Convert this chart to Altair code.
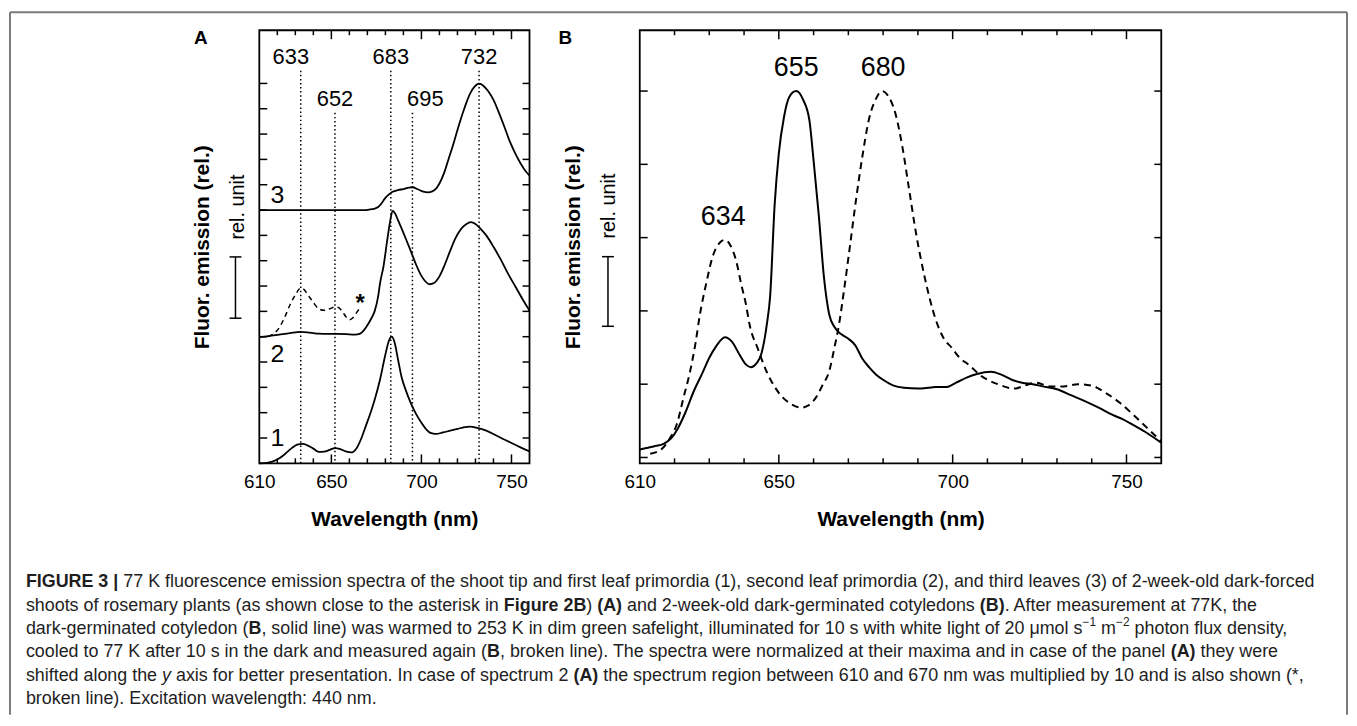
import altair as alt
import pandas as pd

FONT = "Liberation Sans"

# ---------------- Panel A : spectra (relative units, shifted by 0 / 5 / 10) ----------------
a1_wl = [610, 615, 620, 624, 628, 631, 634, 637, 640, 643, 646, 649, 652, 655, 658, 661, 664, 667, 669, 672,
         674, 677, 680, 682, 683.5, 685, 687, 689, 691, 694, 697, 700, 702, 705, 708, 712, 716, 720, 724, 727,
         731, 736, 741, 746, 750, 755, 760]
a1_val = [0.0, 0.03, 0.15, 0.35, 0.6, 0.74, 0.77, 0.7, 0.58, 0.45, 0.46, 0.53, 0.6, 0.56, 0.47, 0.43, 0.6, 1.05, 1.45, 2.05,
          2.5, 3.3, 4.3, 4.85, 5.0, 4.8, 4.1, 3.4, 2.95, 2.4, 1.95, 1.6, 1.4, 1.2, 1.16, 1.22, 1.29, 1.36, 1.43, 1.45,
          1.4, 1.29, 1.12, 0.94, 0.8, 0.63, 0.47]

a2_wl = [610, 615, 621, 627, 633, 638, 643, 648, 653, 658, 663, 666, 668, 670, 672, 674, 676, 677, 679, 681,
         682.5, 684, 685.5, 687, 690, 692, 694, 697, 700, 702, 704.5, 707, 710, 713, 716, 719, 722, 725, 727.5, 730,
         733, 736, 740, 744, 748, 752, 756, 760]
a2_val = [4.98, 5.02, 5.08, 5.14, 5.19, 5.16, 5.12, 5.11, 5.11, 5.1, 5.08, 5.12, 5.25, 5.45, 5.7, 6.0, 6.6, 7.1, 7.8, 8.8,
          9.5, 9.97, 9.85, 9.6, 9.1, 8.75, 8.4, 7.85, 7.4, 7.2, 7.07, 7.12, 7.38, 7.85, 8.4, 8.9, 9.25, 9.45, 9.52, 9.45,
          9.25, 9.0, 8.55, 8.05, 7.5, 7.0, 6.5, 6.03]

# spectrum 2, region 610-670 nm multiplied by 10 (broken line, *)
a2x_wl = [615, 618, 621, 624, 627, 630, 633, 635, 637, 640, 643, 646, 649, 652, 654, 656, 658, 660, 662, 664, 665.5]
a2x_val = [5.0, 5.12, 5.35, 5.75, 6.25, 6.65, 6.92, 6.85, 6.65, 6.35, 6.1, 6.04, 6.1, 6.17, 6.15, 6.0, 5.8, 5.67, 5.75,
           5.95, 6.1]

a3_wl = [610, 640, 668, 671, 674, 676, 678, 680, 682, 684, 687, 690, 693, 695, 698, 701, 703.5, 706, 708, 710,
         712.5, 715, 718, 721, 724, 727, 729.5, 732, 734.5, 737, 740, 743, 746, 749, 752, 755, 758, 760]
a3_val = [10.0, 10.0, 10.0, 10.02, 10.06, 10.12, 10.28, 10.48, 10.62, 10.72, 10.79, 10.83, 10.89, 10.9, 10.82, 10.73,
          10.7, 10.74, 10.84, 11.05, 11.45, 12.0, 12.67, 13.4, 14.05, 14.6, 14.87, 14.99, 14.9, 14.7, 14.35, 13.85,
          13.3, 12.72, 12.25, 11.85, 11.52, 11.36]

pkA_wl = [633, 652, 683, 695, 732]
pkA_top = [15.5, 13.84, 15.5, 13.84, 15.5]
pkA_text = ["633", "652", "683", "695", "732"]

curve_names = ["1", "2", "3"]
curve_label_wl = [620, 620, 620]
curve_label_y = [1.0, 4.3, 10.6]
asterisk_wl = [666]
asterisk_y = [6.27]
scalebarA = [5.73, 8.15]

# ---------------- Panel B ----------------
b1_wl = [610, 614, 617, 619, 621, 623, 625.5, 628, 630, 632, 634.5, 636.5, 638.5, 640.5, 642, 643.5, 645, 646.5, 647.5,
         648.8, 650, 651.5, 653, 655, 657, 658.8, 660, 661.5, 663, 664.5, 666, 668, 670, 672, 674, 676, 678, 680, 683,
         686, 690, 693, 695, 698, 701, 704, 707, 711, 714, 717, 720, 723, 726, 730, 734, 738, 742, 746, 749, 752, 756,
         760]
b1_val = [0.11, 0.15, 0.19, 0.26, 0.4, 0.6, 0.9, 1.15, 1.36, 1.52, 1.64, 1.58, 1.42, 1.27, 1.23, 1.28, 1.42, 1.8, 2.2,
          3.45, 4.15, 4.65, 4.92, 5.0, 4.88, 4.6, 4.05, 3.3, 2.45, 1.95, 1.78, 1.68, 1.62, 1.53, 1.35, 1.23, 1.13, 1.06,
          0.98, 0.95, 0.94, 0.95, 0.96, 0.96, 1.02, 1.09, 1.14, 1.17, 1.13, 1.06, 1.02, 1.0, 0.97, 0.93, 0.85, 0.77,
          0.68, 0.58, 0.52, 0.44, 0.33, 0.2]

b2_wl = [613, 616.4, 618.5, 620.7, 622.5, 624.5, 626, 627.3, 629, 631.1, 633, 634.5, 636, 637.8, 639.2, 640.5, 641.6,
         644, 646.4, 649, 651.1, 653.5, 656.4, 658.5, 660.7, 662.5, 664.5, 666, 667.3, 668.8, 670.5, 672.1, 674, 675.9,
         678, 679.7, 681.5, 683.5, 685.5, 687.3, 689.5, 692, 695, 697.5, 699.7, 702, 704.5, 708.3, 713, 717.8, 720.7,
         724, 728, 732, 736, 740, 744, 748, 752, 756, 760]
b2_val = [0.05, 0.12, 0.25, 0.46, 0.8, 1.18, 1.55, 1.95, 2.35, 2.76, 2.93, 2.97, 2.9, 2.67, 2.36, 2.1, 1.81, 1.48, 1.18,
          0.95, 0.82, 0.73, 0.68, 0.71, 0.82, 0.98, 1.18, 1.5, 1.81, 2.3, 2.9, 3.48, 4.1, 4.61, 4.9, 5.0, 4.93, 4.7,
          4.25, 3.71, 3.05, 2.45, 1.9, 1.62, 1.5, 1.36, 1.27, 1.11, 1.0, 0.94, 0.98, 1.02, 0.97, 0.97, 1.0, 0.98, 0.88,
          0.75, 0.58, 0.4, 0.22]

pkB_wl = [634, 655, 680]
pkB_val = [2.97, 5.0, 5.0]
pkB_text = ["634", "655", "680"]
scalebarB = [1.79, 2.74]

# ---------------- ticks ----------------
x_tick_labels = [610, 650, 700, 750]
x_ticks_minor = [620, 630, 640, 660, 670, 680, 690, 710, 720, 730, 740]
x_ticks_major = [650, 700, 750]
yA_ticks = [1, 2, 3, 4, 5, 6, 7, 8, 9, 10, 11, 12, 13, 14, 15]
yB_ticks = [0, 1, 2, 3, 4, 5]

WA, HA = 272, 436
WB, HB = 525, 436
ONE = pd.DataFrame({"k": [0]})


def xaxis():
    return alt.Axis(values=x_tick_labels, ticks=False, tickSize=0, domain=False, grid=False, labelPadding=9,
                    labelFlush=False, title="Wavelength (nm)", titleY=57, titleBaseline="middle")


def yaxis(tx):
    return alt.Axis(labels=False, ticks=False, domain=False, grid=False, title="Fluor. emission (rel.)",
                    titleX=tx, titleBaseline="middle")


def frame_and_ticks(W, H, xs, ys, ax, ay, yt):
    lay = [alt.Chart(ONE).mark_rect(fill="transparent", stroke="black", strokeWidth=1.8).encode(
        x=alt.value(0), x2=alt.value(W), y=alt.value(0), y2=alt.value(H))]
    for vals, ln in ((x_ticks_minor, 5), (x_ticks_major, 9)):
        for y0, y1 in ((H, H - ln), (0, ln)):
            lay.append(alt.Chart(pd.DataFrame({"t": vals})).mark_rule(color="black", strokeWidth=1.5).encode(
                x=alt.X("t:Q", scale=xs, axis=ax), y=alt.value(y0), y2=alt.value(y1)))
    for x0, x1 in ((0, 8), (W, W - 7)):
        lay.append(alt.Chart(pd.DataFrame({"t": yt})).mark_rule(color="black", strokeWidth=1.5).encode(
            y=alt.Y("t:Q", scale=ys, axis=ay), x=alt.value(x0), x2=alt.value(x1)))
    return lay


def rel_unit(ys, ay, bar, xbar, xtext, ytext):
    lay = [alt.Chart(pd.DataFrame({"t": ["rel. unit"]})).mark_text(
        font=FONT, fontSize=20, angle=270, align="center", baseline="middle", color="black").encode(
        x=alt.value(xtext), y=alt.value(ytext), text="t:N")]
    lay.append(alt.Chart(pd.DataFrame({"lo": [bar[0]], "hi": [bar[1]]})).mark_rule(
        color="black", strokeWidth=1.5).encode(
        x=alt.value(xbar), y=alt.Y("lo:Q", scale=ys, axis=ay), y2="hi:Q"))
    lay.append(alt.Chart(pd.DataFrame({"v": bar})).mark_rule(color="black", strokeWidth=1.5).encode(
        x=alt.value(xbar - 6), x2=alt.value(xbar + 6), y=alt.Y("v:Q", scale=ys, axis=ay)))
    return lay


def letter(t, x, y):
    return alt.Chart(pd.DataFrame({"t": [t]})).mark_text(
        font=FONT, fontSize=19, fontWeight="bold", align="center", baseline="middle", color="black").encode(
        x=alt.value(x), y=alt.value(y), text="t:N")


# ---------------- build panel A ----------------
xsA = alt.Scale(domain=[610, 760], nice=False, zero=False)
ysA = alt.Scale(domain=[0, 17.1], nice=False, zero=False)
axA, ayA = xaxis(), yaxis(-57)

dfA = pd.concat([
    pd.DataFrame({"wl": a1_wl, "val": a1_val, "curve": "1"}),
    pd.DataFrame({"wl": a2_wl, "val": a2_val, "curve": "2"}),
    pd.DataFrame({"wl": a3_wl, "val": a3_val, "curve": "3"}),
])
dfA_dash = pd.DataFrame({"wl": a2x_wl, "val": a2x_val})
dfA_pk = pd.DataFrame({"wl": pkA_wl, "top": pkA_top, "lab": pkA_text})

layersA = []
layersA.append(alt.Chart(dfA_pk).mark_rule(color="black", strokeWidth=1.5, strokeDash=[1.5, 2.6]).encode(
    x=alt.X("wl:Q", scale=xsA, axis=axA), y=alt.Y("top:Q", scale=ysA, axis=ayA), y2=alt.datum(0)))
layersA.append(alt.Chart(dfA).mark_line(color="black", strokeWidth=1.8, interpolate="monotone").encode(
    x=alt.X("wl:Q", scale=xsA, axis=axA), y=alt.Y("val:Q", scale=ysA, axis=ayA), detail="curve:N"))
layersA.append(alt.Chart(dfA_dash).mark_line(color="black", strokeWidth=1.5, strokeDash=[5, 4],
                                             interpolate="monotone").encode(
    x=alt.X("wl:Q", scale=xsA, axis=axA), y=alt.Y("val:Q", scale=ysA, axis=ayA)))
for labs, dx in ((["652", "683", "732"], 0), (["633"], -10), (["695"], 13)):
    layersA.append(alt.Chart(dfA_pk[dfA_pk["lab"].isin(labs)]).mark_text(
        font=FONT, fontSize=22, align="center", baseline="middle", dy=-14, dx=dx, color="black").encode(
        x=alt.X("wl:Q", scale=xsA, axis=axA), y=alt.Y("top:Q", scale=ysA, axis=ayA), text="lab:N"))
layersA.append(alt.Chart(pd.DataFrame({"wl": curve_label_wl, "y": curve_label_y, "lab": curve_names})).mark_text(
    font=FONT, fontSize=25, align="center", baseline="middle", color="black").encode(
    x=alt.X("wl:Q", scale=xsA, axis=axA), y=alt.Y("y:Q", scale=ysA, axis=ayA), text="lab:N"))
layersA.append(alt.Chart(pd.DataFrame({"wl": asterisk_wl, "y": asterisk_y, "lab": ["*"]})).mark_text(
    font=FONT, fontSize=24, fontWeight="bold", align="center", baseline="middle", color="black").encode(
    x=alt.X("wl:Q", scale=xsA, axis=axA), y=alt.Y("y:Q", scale=ysA, axis=ayA), text="lab:N"))
layersA += rel_unit(ysA, ayA, scalebarA, -24, -21, 178)
layersA.append(letter("A", -59, 8))
layersA += frame_and_ticks(WA, HA, xsA, ysA, axA, ayA, yA_ticks)
panelA = alt.layer(*layersA).properties(width=WA, height=HA)

# ---------------- build panel B ----------------
xsB = alt.Scale(domain=[610, 760], nice=False, zero=False)
ysB = alt.Scale(domain=[-0.08, 5.83], nice=False, zero=False)
axB, ayB = xaxis(), yaxis(-67)

dfB1 = pd.DataFrame({"wl": b1_wl, "val": b1_val})
dfB2 = pd.DataFrame({"wl": b2_wl, "val": b2_val})
dfB_pk = pd.DataFrame({"wl": pkB_wl, "val": pkB_val, "lab": pkB_text})

layersB = []
layersB.append(alt.Chart(dfB1).mark_line(color="black", strokeWidth=2, interpolate="monotone").encode(
    x=alt.X("wl:Q", scale=xsB, axis=axB), y=alt.Y("val:Q", scale=ysB, axis=ayB)))
layersB.append(alt.Chart(dfB2).mark_line(color="black", strokeWidth=2, strokeDash=[7, 5],
                                         interpolate="monotone").encode(
    x=alt.X("wl:Q", scale=xsB, axis=axB), y=alt.Y("val:Q", scale=ysB, axis=ayB)))
layersB.append(alt.Chart(dfB_pk).mark_text(
    font=FONT, fontSize=27, align="center", baseline="middle", dy=-23, color="black").encode(
    x=alt.X("wl:Q", scale=xsB, axis=axB), y=alt.Y("val:Q", scale=ysB, axis=ayB), text="lab:N"))
layersB += rel_unit(ysB, ayB, scalebarB, -32, -31, 177)
layersB.append(letter("B", -75, 8))
layersB += frame_and_ticks(WB, HB, xsB, ysB, axB, ayB, yB_ticks)
panelB = alt.layer(*layersB).properties(width=WB, height=HB)

# ---------------- caption ----------------
_chars = " !\"#$%&'()*+,-./0123456789:;<=>?@ABCDEFGHIJKLMNOPQRSTUVWXYZ[\\]^_`abcdefghijklmnopqrstuvwxyz{|}~"
_reg = [278, 278, 355, 556, 556, 889, 667, 191, 333, 333, 389, 584, 278, 333, 278, 278] + [556] * 10 + \
       [278, 278, 584, 584, 584, 556, 1015, 667, 667, 722, 722, 667, 611, 778, 722, 278, 500, 667, 556, 833, 722,
        778, 667, 778, 722, 667, 611, 722, 667, 944, 667, 667, 611, 278, 278, 278, 469, 556, 333, 556, 556, 500, 556,
        556, 278, 556, 556, 222, 222, 500, 222, 833, 556, 556, 556, 556, 333, 500, 278, 556, 500, 722, 500, 500, 500,
        334, 260, 334, 584]
_bold = [278, 333, 474, 556, 556, 889, 722, 238, 333, 333, 389, 584, 278, 333, 278, 278] + [556] * 10 + \
        [333, 333, 584, 584, 584, 611, 975, 722, 722, 722, 722, 667, 611, 778, 722, 278, 556, 722, 611, 833, 722,
         778, 667, 778, 722, 667, 611, 722, 667, 944, 667, 667, 611, 333, 278, 333, 584, 556, 333, 556, 611, 556, 611,
         556, 333, 611, 611, 278, 278, 556, 278, 889, 611, 611, 611, 611, 389, 556, 333, 611, 556, 778, 556, 556, 500,
         389, 280, 389, 584]
REG = dict(zip(_chars, _reg))
BOLD = dict(zip(_chars, _bold))
REG.update({"\u2212": 584, "\u03bc": 576})
BOLD.update({"\u2212": 584, "\u03bc": 576})

CAP_FS, SUP_FS = 18, 12


def tw(s, style):
    table = BOLD if style == "b" else REG
    size = SUP_FS if style == "s" else CAP_FS
    return sum(table.get(c, 556) for c in s) * size / 1000.0


cap_lines = [
    [("FIGURE 3 | ", "b"),
     ("77 K fluorescence emission spectra of the shoot tip and first leaf primordia (1), second leaf primordia (2), "
      "and third leaves (3) of 2-week-old dark-forced", "r")],
    [("shoots of rosemary plants (as shown close to the asterisk in ", "r"), ("Figure 2B", "b"), (") ", "r"),
     ("(A)", "b"), (" and 2-week-old dark-germinated cotyledons ", "r"), ("(B)", "b"),
     (". After measurement at 77K, the", "r")],
    [("dark-germinated cotyledon (", "r"), ("B", "b"),
     (", solid line) was warmed to 253 K in dim green safelight, illuminated for 10 s with white light of "
      "20 \u03bcmol s", "r"), ("\u22121", "s"), (" m", "r"), ("\u22122", "s"), (" photon flux density,", "r")],
    [("cooled to 77 K after 10 s in the dark and measured again (", "r"), ("B", "b"),
     (", broken line). The spectra were normalized at their maxima and in case of the panel ", "r"),
     ("(A)", "b"), (" they were", "r")],
    [("shifted along the ", "r"), ("y", "i"),
     (" axis for better presentation. In case of spectrum 2 ", "r"), ("(A)", "b"),
     (" the spectrum region between 610 and 670 nm was multiplied by 10 and is also shown (*,", "r")],
    [("broken line). Excitation wavelength: 440 nm.", "r")],
]
CAP_X0 = -235
CAP_Y = [100, 124, 147, 170, 194, 217]

rows = {"r": [], "b": [], "i": [], "s": []}
for line, ly in zip(cap_lines, CAP_Y):
    x = CAP_X0
    for seg, st in line:
        lead = len(seg) - len(seg.lstrip(" "))
        xs = x + tw(seg[:lead], st)
        if seg.strip():
            rows[st].append({"x": xs, "y": ly - (7 if st == "s" else 0), "t": seg.strip()})
        x += tw(seg, st)

cap_layers = []
styles = {
    "r": dict(fontSize=CAP_FS),
    "b": dict(fontSize=CAP_FS, fontWeight="bold"),
    "i": dict(fontSize=CAP_FS, fontStyle="italic"),
    "s": dict(fontSize=SUP_FS),
}
for st, kw in styles.items():
    if rows[st]:
        cap_layers.append(alt.Chart(pd.DataFrame(rows[st])).mark_text(
            font=FONT, align="left", baseline="middle", color="#1e1e1e", **kw).encode(
            x=alt.X("x:Q", scale=None, axis=None), y=alt.Y("y:Q", scale=None, axis=None), text="t:N"))

# outer figure frame (left, top, right)
FR = dict(color="#7a7a7a", strokeWidth=2)
cap_layers.append(alt.Chart(ONE).mark_rule(**FR).encode(x=alt.value(-251), y=alt.value(-474), y2=alt.value(233)))
cap_layers.append(alt.Chart(ONE).mark_rule(**FR).encode(x=alt.value(-251), x2=alt.value(1095), y=alt.value(-474)))
cap_layers.append(alt.Chart(ONE).mark_rule(**FR).encode(x=alt.value(1095), y=alt.value(-474), y2=alt.value(233)))

caption = alt.layer(*cap_layers).properties(width=WA, height=233)

chart = alt.concat(
    panelA, panelB, caption, columns=2, spacing={"row": 20, "column": 111}, bounds="flush"
).resolve_scale(
    x="independent", y="independent"
).properties(
    padding=0
).configure_view(
    stroke="transparent"
).configure_axis(
    labelFont=FONT, labelFontSize=19, labelColor="black",
    titleFont=FONT, titleFontSize=21, titleFontWeight="bold", titleColor="black"
)

chart.save("out.html", embed_options={"renderer": "svg", "actions": False})
